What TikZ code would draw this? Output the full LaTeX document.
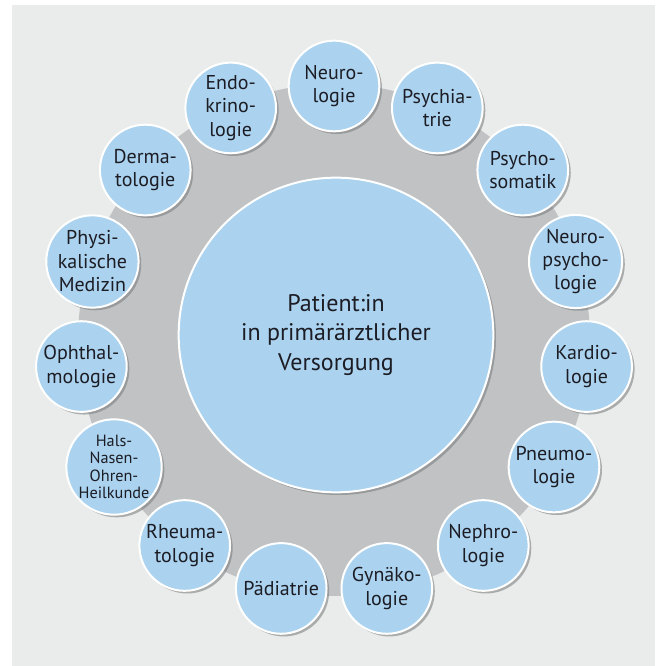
\documentclass[tikz,border=0pt]{standalone}
\usepackage{fontspec}
\setmainfont{PT Sans}
\usetikzlibrary{shadows}
\definecolor{panelgray}{RGB}{234,236,236}
\definecolor{ringgray}{RGB}{192,194,196}
\definecolor{fachblue}{RGB}{171,211,239}
\definecolor{textdark}{RGB}{28,28,36}
\tikzset{ 
    fach/.style={
        circle,
        line width=1.5pt,
        draw=white,
        fill=fachblue,
        text=textdark,
        minimum size=68pt,
        inner sep=0pt,
        align=center,
        font=\fontsize{15}{17.6}\selectfont,
        drop shadow={shadow xshift=2pt,shadow yshift=-2pt,opacity=0.6},
    },
    patient/.style={
        fach,
        minimum size=236pt,
        font=\fontsize{18}{21.8}\selectfont,
    },
}

\begin{document}
\begin{tikzpicture}[x=0.75pt,y=0.75pt]
    \useasboundingbox (-334,-326) rectangle (323,340);
    \fill[panelgray] (-322,-326) rectangle (321,335);
    \fill[ringgray] (0,0) circle (256);
    \node [patient] (pat) at (2,5) {Patient:in\\in primärärztlicher\\Versorgung};
    \node [fach] (neuro) at (90:254) {Neuro-\\logie};
    \node [fach] (psychiatrie) at (66:254) {Psychia-\\trie};
    \node [fach] (psychosom) at (42:254) {Psycho-\\somatik};
    \node [fach] (neuropsych) at (18:254) {Neuro-\\psycho-\\logie};
    \node [fach] (kardio) at (-6:254) {Kardio-\\logie};
    \node [fach] (pneumo) at (-30:254) {Pneumo-\\logie};
    \node [fach] (nephro) at (-54:254) {Nephro-\\logie};
    \node [fach] (gyn) at (-78:254) {Gynäko-\\logie};
    \node [fach] (paed) at (-102:254) {Pädiatrie};
    \node [fach] (rheuma) at (-126:254) {Rheuma-\\tologie};
    \node [fach,font=\fontsize{12.2}{13.1}\selectfont] (hno) at (-150:254) {Hals-\\Nasen-\\Ohren-\\Heilkunde};
    \node [fach] (ophthal) at (-174:254) {Ophthal-\\mologie};
    \node [fach] (physmed) at (162:254) {Physi-\\kalische\\Medizin};
    \node [fach] (derma) at (138:254) {Derma-\\tologie};
    \node [fach] (endo) at (114:254) {Endo-\\krino-\\logie};
\end{tikzpicture}
\end{document}
